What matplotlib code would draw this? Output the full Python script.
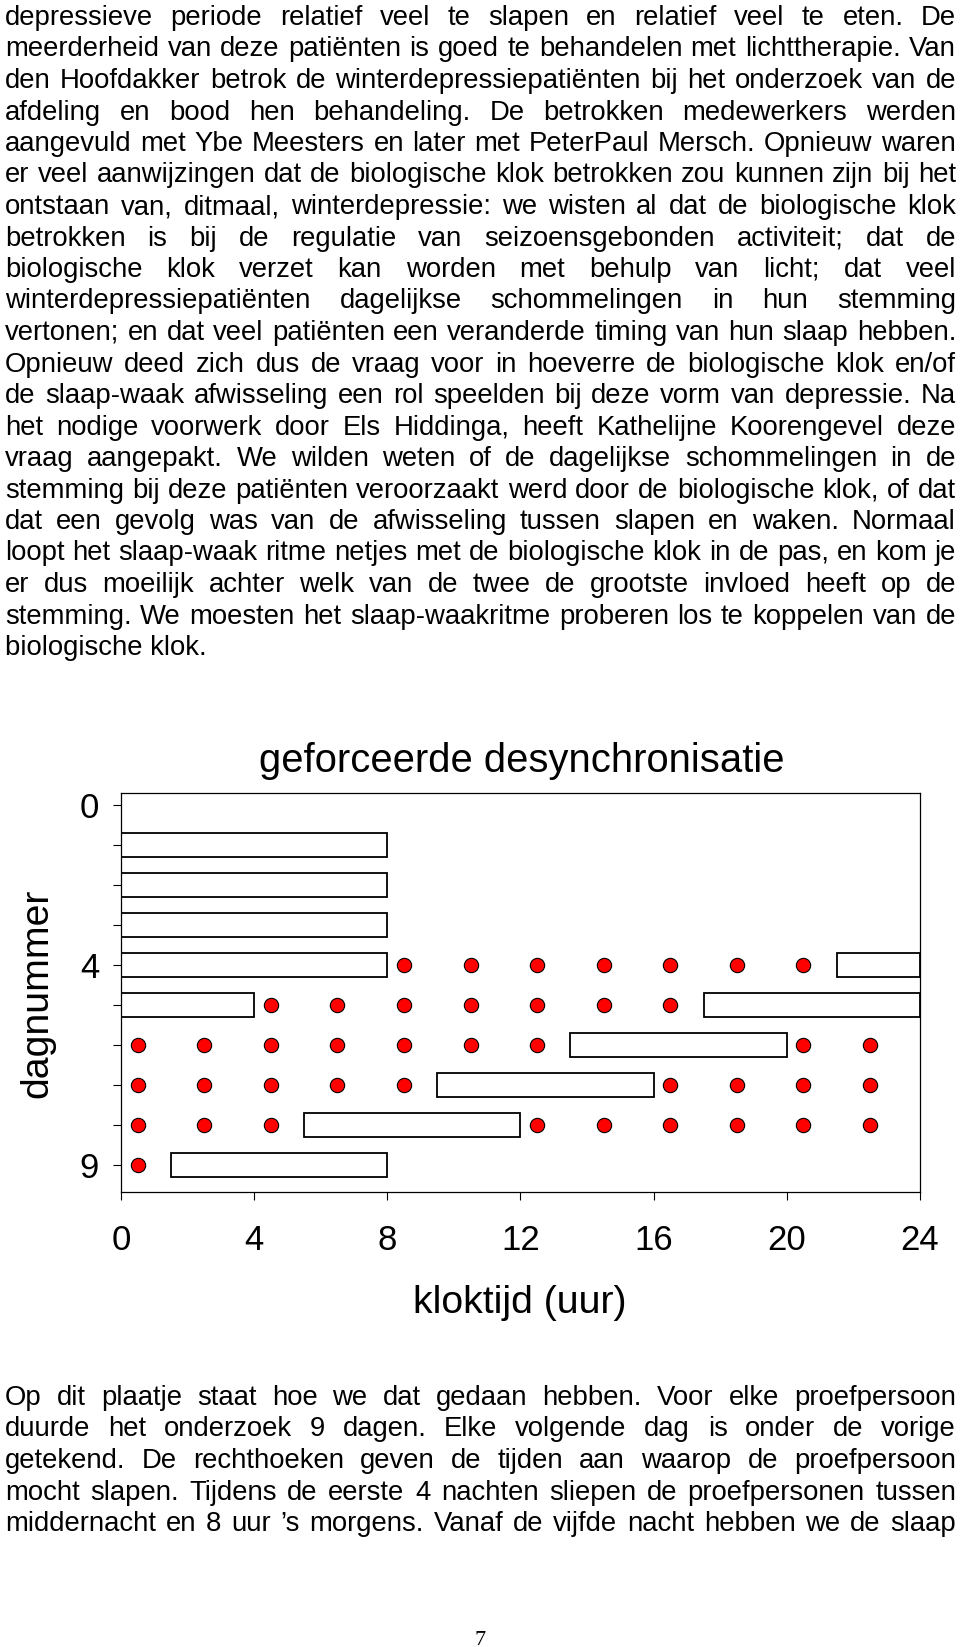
import matplotlib
matplotlib.use('Agg')
import matplotlib.pyplot as plt

plt.rcParams['font.family'] = ['Liberation Sans', 'DejaVu Sans']

W, H = 960, 1647

# ---------------- page text ----------------
text_top = [
    "depressieve periode relatief veel te slapen en relatief veel te eten. De",
    "meerderheid van deze patiënten is goed te behandelen met lichttherapie. Van",
    "den Hoofdakker betrok de winterdepressiepatiënten bij het onderzoek van de",
    "afdeling en bood hen behandeling. De betrokken medewerkers werden",
    "aangevuld met Ybe Meesters en later met PeterPaul Mersch. Opnieuw waren",
    "er veel aanwijzingen dat de biologische klok betrokken zou kunnen zijn bij het",
    "ontstaan van, ditmaal, winterdepressie: we wisten al dat de biologische klok",
    "betrokken is bij de regulatie van seizoensgebonden activiteit; dat de",
    "biologische klok verzet kan worden met behulp van licht; dat veel",
    "winterdepressiepatiënten dagelijkse schommelingen in hun stemming",
    "vertonen; en dat veel patiënten een veranderde timing van hun slaap hebben.",
    "Opnieuw deed zich dus de vraag voor in hoeverre de biologische klok en/of",
    "de slaap-waak afwisseling een rol speelden bij deze vorm van depressie. Na",
    "het nodige voorwerk door Els Hiddinga, heeft Kathelijne Koorengevel deze",
    "vraag aangepakt. We wilden weten of de dagelijkse schommelingen in de",
    "stemming bij deze patiënten veroorzaakt werd door de biologische klok, of dat",
    "dat een gevolg was van de afwisseling tussen slapen en waken. Normaal",
    "loopt het slaap-waak ritme netjes met de biologische klok in de pas, en kom je",
    "er dus moeilijk achter welk van de twee de grootste invloed heeft op de",
    "stemming. We moesten het slaap-waakritme proberen los te koppelen van de",
    "biologische klok.",
]
text_bottom = [
    "Op dit plaatje staat hoe we dat gedaan hebben. Voor elke proefpersoon",
    "duurde het onderzoek 9 dagen. Elke volgende dag is onder de vorige",
    "getekend. De rechthoeken geven de tijden aan waarop de proefpersoon",
    "mocht slapen. Tijdens de eerste 4 nachten sliepen de proefpersonen tussen",
    "middernacht en 8 uur \u2019s morgens. Vanaf de vijfde nacht hebben we de slaap",
]
page_number = "7"

# ---------------- chart data ----------------
chart_title = "geforceerde desynchronisatie"
x_label = "kloktijd (uur)"
y_label = "dagnummer"

days = [0, 1, 2, 3, 4, 5, 6, 7, 8, 9]
day_tick_labels = ['0', '', '', '', '4', '', '', '', '', '9']
hour_ticks = [0, 4, 8, 12, 16, 20, 24]
hour_tick_labels = ['0', '4', '8', '12', '16', '20', '24']

# sleep episodes (rectangles)
sleep_day = [1, 2, 3, 4, 4, 5, 5, 6, 7, 8, 9]
sleep_start = [0, 0, 0, 0, 21.5, 0, 17.5, 13.5, 9.5, 5.5, 1.5]
sleep_end = [8, 8, 8, 8, 24, 4, 24, 20, 16, 12, 8]

# measurement dots per day (clock hour)
dots_day4 = [8.5, 10.5, 12.5, 14.5, 16.5, 18.5, 20.5]
dots_day5 = [4.5, 6.5, 8.5, 10.5, 12.5, 14.5, 16.5]
dots_day6 = [0.5, 2.5, 4.5, 6.5, 8.5, 10.5, 12.5, 20.5, 22.5]
dots_day7 = [0.5, 2.5, 4.5, 6.5, 8.5, 16.5, 18.5, 20.5, 22.5]
dots_day8 = [0.5, 2.5, 4.5, 12.5, 14.5, 16.5, 18.5, 20.5, 22.5]
dots_day9 = [0.5]

# ---------------- figure ----------------
fig = plt.figure(figsize=(W / 100, H / 100), dpi=100)
fig.patch.set_facecolor('white')
renderer = fig.canvas.get_renderer()

LEFT, RIGHT = 5, 956
BODY_SIZE = 19.8


def fx(x):
    return x / W


def fy(y):
    return 1 - y / H


def paragraph(lines, y0, step, last_justified):
    for i, line in enumerate(lines):
        y = y0 + i * step
        words = line.split(' ')
        justify = (i < len(lines) - 1) or last_justified
        if not justify or len(words) == 1:
            fig.text(fx(LEFT), fy(y), line, fontsize=BODY_SIZE,
                     ha='left', va='baseline')
            continue
        texts = [fig.text(0, 0, w, fontsize=BODY_SIZE, ha='left', va='baseline')
                 for w in words]
        widths = [t.get_window_extent(renderer).width for t in texts]
        gap = (RIGHT - LEFT - sum(widths)) / (len(words) - 1)
        x = LEFT
        for t, w in zip(texts, widths):
            t.set_position((fx(x), fy(y)))
            x += w + gap


paragraph(text_top, 25, 31.5, last_justified=False)
paragraph(text_bottom, 1405, 31.5, last_justified=True)

fig.text(fx(480), fy(1645), page_number, fontsize=16,
         family=['Liberation Serif', 'DejaVu Serif'], ha='center', va='baseline')

# ---------------- chart ----------------
ax = fig.add_axes([fx(121), fy(1192), 799 / W, 399 / H])
widths = [e - s for s, e in zip(sleep_start, sleep_end)]
ax.barh(sleep_day, widths, left=sleep_start, height=0.6, color='white',
        edgecolor='black', linewidth=1.3, zorder=2)

for d, hours in [(4, dots_day4), (5, dots_day5), (6, dots_day6),
                 (7, dots_day7), (8, dots_day8), (9, dots_day9)]:
    ax.plot(hours, [d] * len(hours), linestyle='none', marker='o',
            markersize=10.3, markerfacecolor='#ff0000',
            markeredgecolor='black', markeredgewidth=0.8, zorder=3)

ax.set_xlim(0, 24)
ax.set_ylim(9.68, -0.3)
ax.set_xticks(hour_ticks)
ax.set_xticklabels(hour_tick_labels)
ax.set_yticks(days)
ax.set_yticklabels(day_tick_labels)
ax.tick_params(axis='both', direction='out', length=5.8, width=0.8,
               labelsize=25, color='black')
ax.tick_params(axis='x', pad=17)
ax.tick_params(axis='y', pad=10)
for sp in ax.spines.values():
    sp.set_linewidth(0.9)
    sp.set_color('black')

fig.text(fx(522), fy(772), chart_title, fontsize=28.8, ha='center', va='baseline')
fig.text(fx(520), fy(1313), x_label, fontsize=28.3, ha='center', va='baseline')
fig.text(fx(37), fy(993), y_label, fontsize=28.3, rotation=90,
         ha='center', va='center')

fig.savefig('out.png', dpi=100, facecolor='white')
